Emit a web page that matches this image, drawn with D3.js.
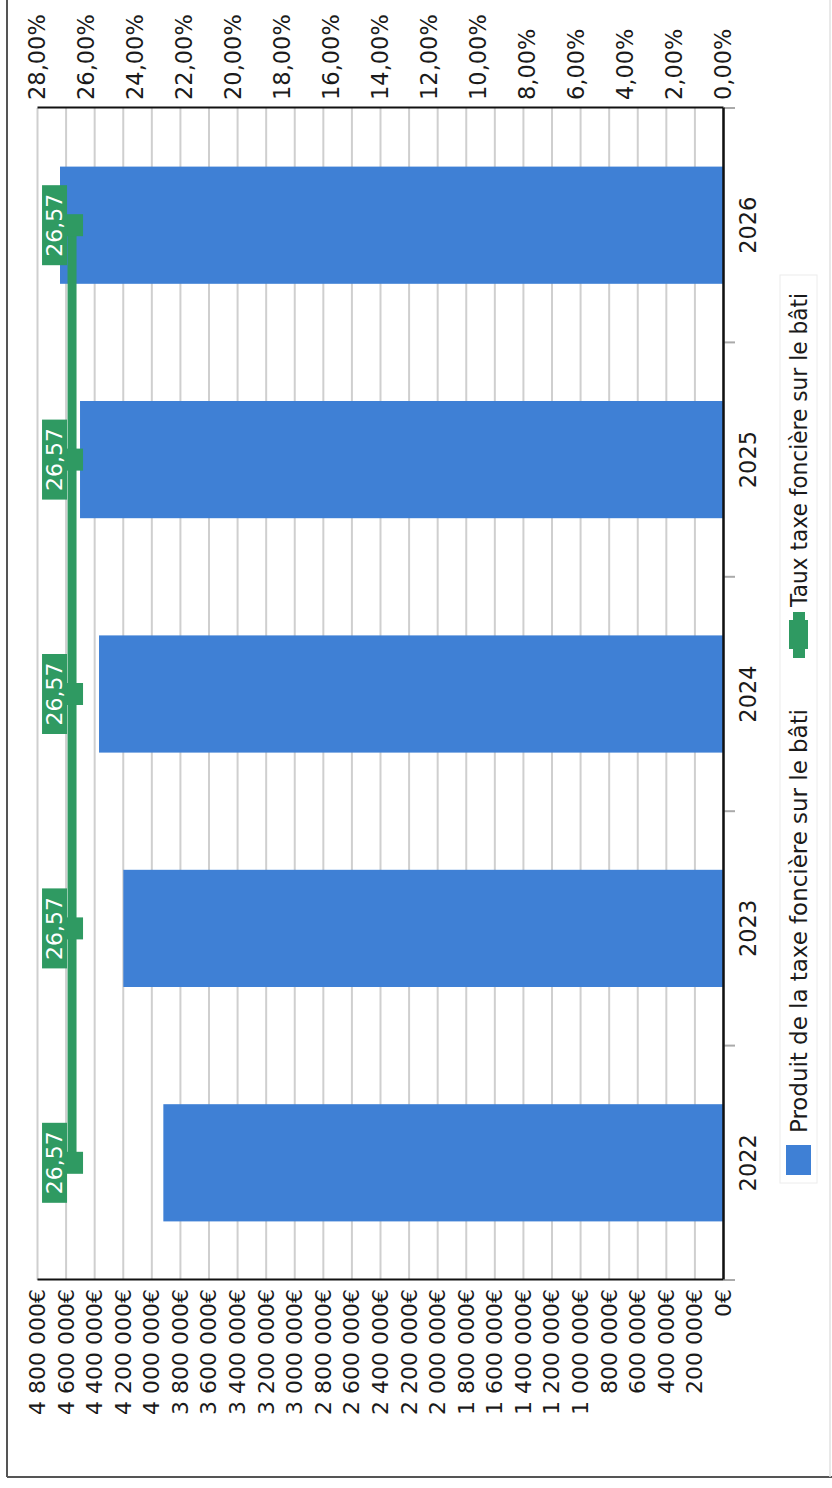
<!DOCTYPE html>
<html>
<head>
<meta charset="utf-8">
<script src="https://cdn.jsdelivr.net/npm/d3@7"></script>
<style>
  body { margin: 0; background: #fff; }
  svg { display: block; }
  text { font-family: "DejaVu Sans", sans-serif; fill: #1a1a1a; }
</style>
</head>
<body>
<svg id="chart" width="832" height="1488"></svg>
<script>
// Taxe foncière sur le bâti : produit (barres, axe €) et taux (ligne, axe %)
const years = ["2022", "2023", "2024", "2025", "2026"];
const produit = [3916000, 4196000, 4366000, 4499000, 4639000];
const taux = [26.57, 26.57, 26.57, 26.57, 26.57];
const euroTicks = [0, 200000, 400000, 600000, 800000, 1000000, 1200000, 1400000,
  1600000, 1800000, 2000000, 2200000, 2400000, 2600000, 2800000, 3000000,
  3200000, 3400000, 3600000, 3800000, 4000000, 4200000, 4400000, 4600000, 4800000];
const percentTicks = [0, 2, 4, 6, 8, 10, 12, 14, 16, 18, 20, 22, 24, 26, 28];
const legendLabels = ["Produit de la taxe foncière sur le bâti", "Taux taxe foncière sur le bâti"];

const BLUE = "#3f80d5";
const GREEN = "#2f9a62";

const fr = d3.formatLocale({
  decimal: ",", thousands: "\u00a0", grouping: [3], currency: ["", "€"]
});
const fmtEuro = v => fr.format("$,.0f")(v).replace(/\u00a0/g, " ");
const fmtPct = v => fr.format(".2f")(v) + "%";
const fmtVal = v => fr.format(".2f")(v);

const svg = d3.select("#chart");

// The chart is laid out as a regular column chart in a 1488 x 832 frame,
// then turned a quarter turn so it reads sideways on the page.
const W = 1488;
const g = svg.append("g").attr("transform", `translate(0,${W}) rotate(-90)`);

// outer frame
g.append("line").attr("x1", 11).attr("x2", 11).attr("y1", 7).attr("y2", 832)
  .attr("stroke", "#555").attr("stroke-width", 2);
g.append("line").attr("x1", 11).attr("x2", W + 2).attr("y1", 7).attr("y2", 7)
  .attr("stroke", "#555").attr("stroke-width", 2);
g.append("line").attr("x1", 11).attr("x2", W + 2).attr("y1", 830).attr("y2", 830)
  .attr("stroke", "#e2e2e2").attr("stroke-width", 1.5);

const x0 = 208, x1 = 1380, yBase = 723, yTop = 37;

const x = d3.scaleBand().domain(years).range([x0, x1]).paddingInner(0.5).paddingOuter(0.25);
const y = d3.scaleLinear().domain([0, 4800000]).range([yBase, yTop]);
const y2 = d3.scaleLinear().domain([0, 28]).range([yBase, yTop]);

// gridlines
const grid = g.append("g").attr("transform", `translate(${x0},0)`)
  .call(d3.axisLeft(y).tickValues(euroTicks).tickSize(-(x1 - x0)).tickFormat(""));
grid.select(".domain").remove();
grid.selectAll("line").attr("stroke", "#cfcfcf").attr("stroke-width", 2);

// € axis
const ax = g.append("g").attr("transform", `translate(${x0},0)`)
  .call(d3.axisLeft(y).tickValues(euroTicks).tickSize(0).tickSizeOuter(0).tickPadding(9).tickFormat(fmtEuro));
ax.select(".domain").attr("stroke", "#111").attr("stroke-width", 2);
ax.selectAll("text").attr("font-size", 22).attr("font-family", "DejaVu Sans").attr("fill", "#1a1a1a").attr("dy", "0.34em");

// % axis
const ax2 = g.append("g").attr("transform", `translate(${x1},0)`)
  .call(d3.axisRight(y2).tickValues(percentTicks).tickSize(0).tickSizeOuter(0).tickPadding(8).tickFormat(fmtPct));
ax2.select(".domain").attr("stroke", "#111").attr("stroke-width", 2);
ax2.selectAll("text").attr("font-size", 22.5).attr("font-family", "DejaVu Sans").attr("fill", "#1a1a1a").attr("dy", "0.34em");

// bars
g.append("g").selectAll("rect").data(years).join("rect")
  .attr("x", d => x(d))
  .attr("width", x.bandwidth())
  .attr("y", (d, i) => y(produit[i]))
  .attr("height", (d, i) => y(0) - y(produit[i]))
  .attr("fill", BLUE);

// category axis
const half = (x.step() - x.bandwidth()) / 2;
const bounds = years.map(d => x(d) - half).concat([x1]);
g.append("g").selectAll("line").data(bounds).join("line")
  .attr("x1", d => d).attr("x2", d => d)
  .attr("y1", yBase).attr("y2", yBase + 12)
  .attr("stroke", "#aaa").attr("stroke-width", 2);
const axc = g.append("g").attr("transform", `translate(0,${yBase})`)
  .call(d3.axisBottom(x).tickSize(0).tickSizeOuter(0).tickPadding(17));
axc.select(".domain").attr("stroke", "#111").attr("stroke-width", 2.5);
axc.selectAll("text").attr("font-size", 22.5).attr("font-family", "DejaVu Sans").attr("fill", "#1a1a1a");

// rate line
const cx = d => x(d) + x.bandwidth() / 2;
const pts = years.map((d, i) => ({ year: d, v: taux[i] }));
g.append("path").datum(pts)
  .attr("d", d3.line().x(d => cx(d.year)).y(d => y2(d.v)))
  .attr("fill", "none").attr("stroke", GREEN).attr("stroke-width", 9);
g.append("g").selectAll("rect").data(pts).join("rect")
  .attr("x", d => cx(d.year) - 11).attr("y", d => y2(d.v) - 11)
  .attr("width", 22).attr("height", 22).attr("fill", GREEN);

// value labels
const lab = g.append("g").selectAll("g").data(pts).join("g")
  .attr("transform", d => `translate(${cx(d.year)},${y2(d.v) - 17.5})`);
lab.append("rect").attr("x", -40).attr("y", -12.5).attr("width", 80).attr("height", 25).attr("fill", GREEN);
lab.append("text").attr("text-anchor", "middle").attr("dy", "0.36em")
  .attr("font-size", 22).style("fill", "#fff").text(d => fmtVal(d.v));

// legend
const lg = g.append("g");
lg.append("rect").attr("x", 305).attr("y", 780).attr("width", 908).attr("height", 37)
  .attr("fill", "none").attr("stroke", "#ececec").attr("stroke-width", 1);
lg.append("rect").attr("x", 313).attr("y", 786).attr("width", 30).attr("height", 25).attr("fill", BLUE);
lg.append("text").attr("x", 355).attr("y", 807).attr("font-size", 22.5)
  .attr("textLength", 424).attr("lengthAdjust", "spacingAndGlyphs").text(legendLabels[0]);
lg.append("line").attr("x1", 830).attr("x2", 876).attr("y1", 799).attr("y2", 799)
  .attr("stroke", GREEN).attr("stroke-width", 12);
lg.append("rect").attr("x", 839).attr("y", 789).attr("width", 29).attr("height", 19).attr("fill", GREEN);
lg.append("text").attr("x", 881).attr("y", 807).attr("font-size", 22.5)
  .attr("textLength", 314).attr("lengthAdjust", "spacingAndGlyphs").text(legendLabels[1]);
</script>
</body>
</html>
